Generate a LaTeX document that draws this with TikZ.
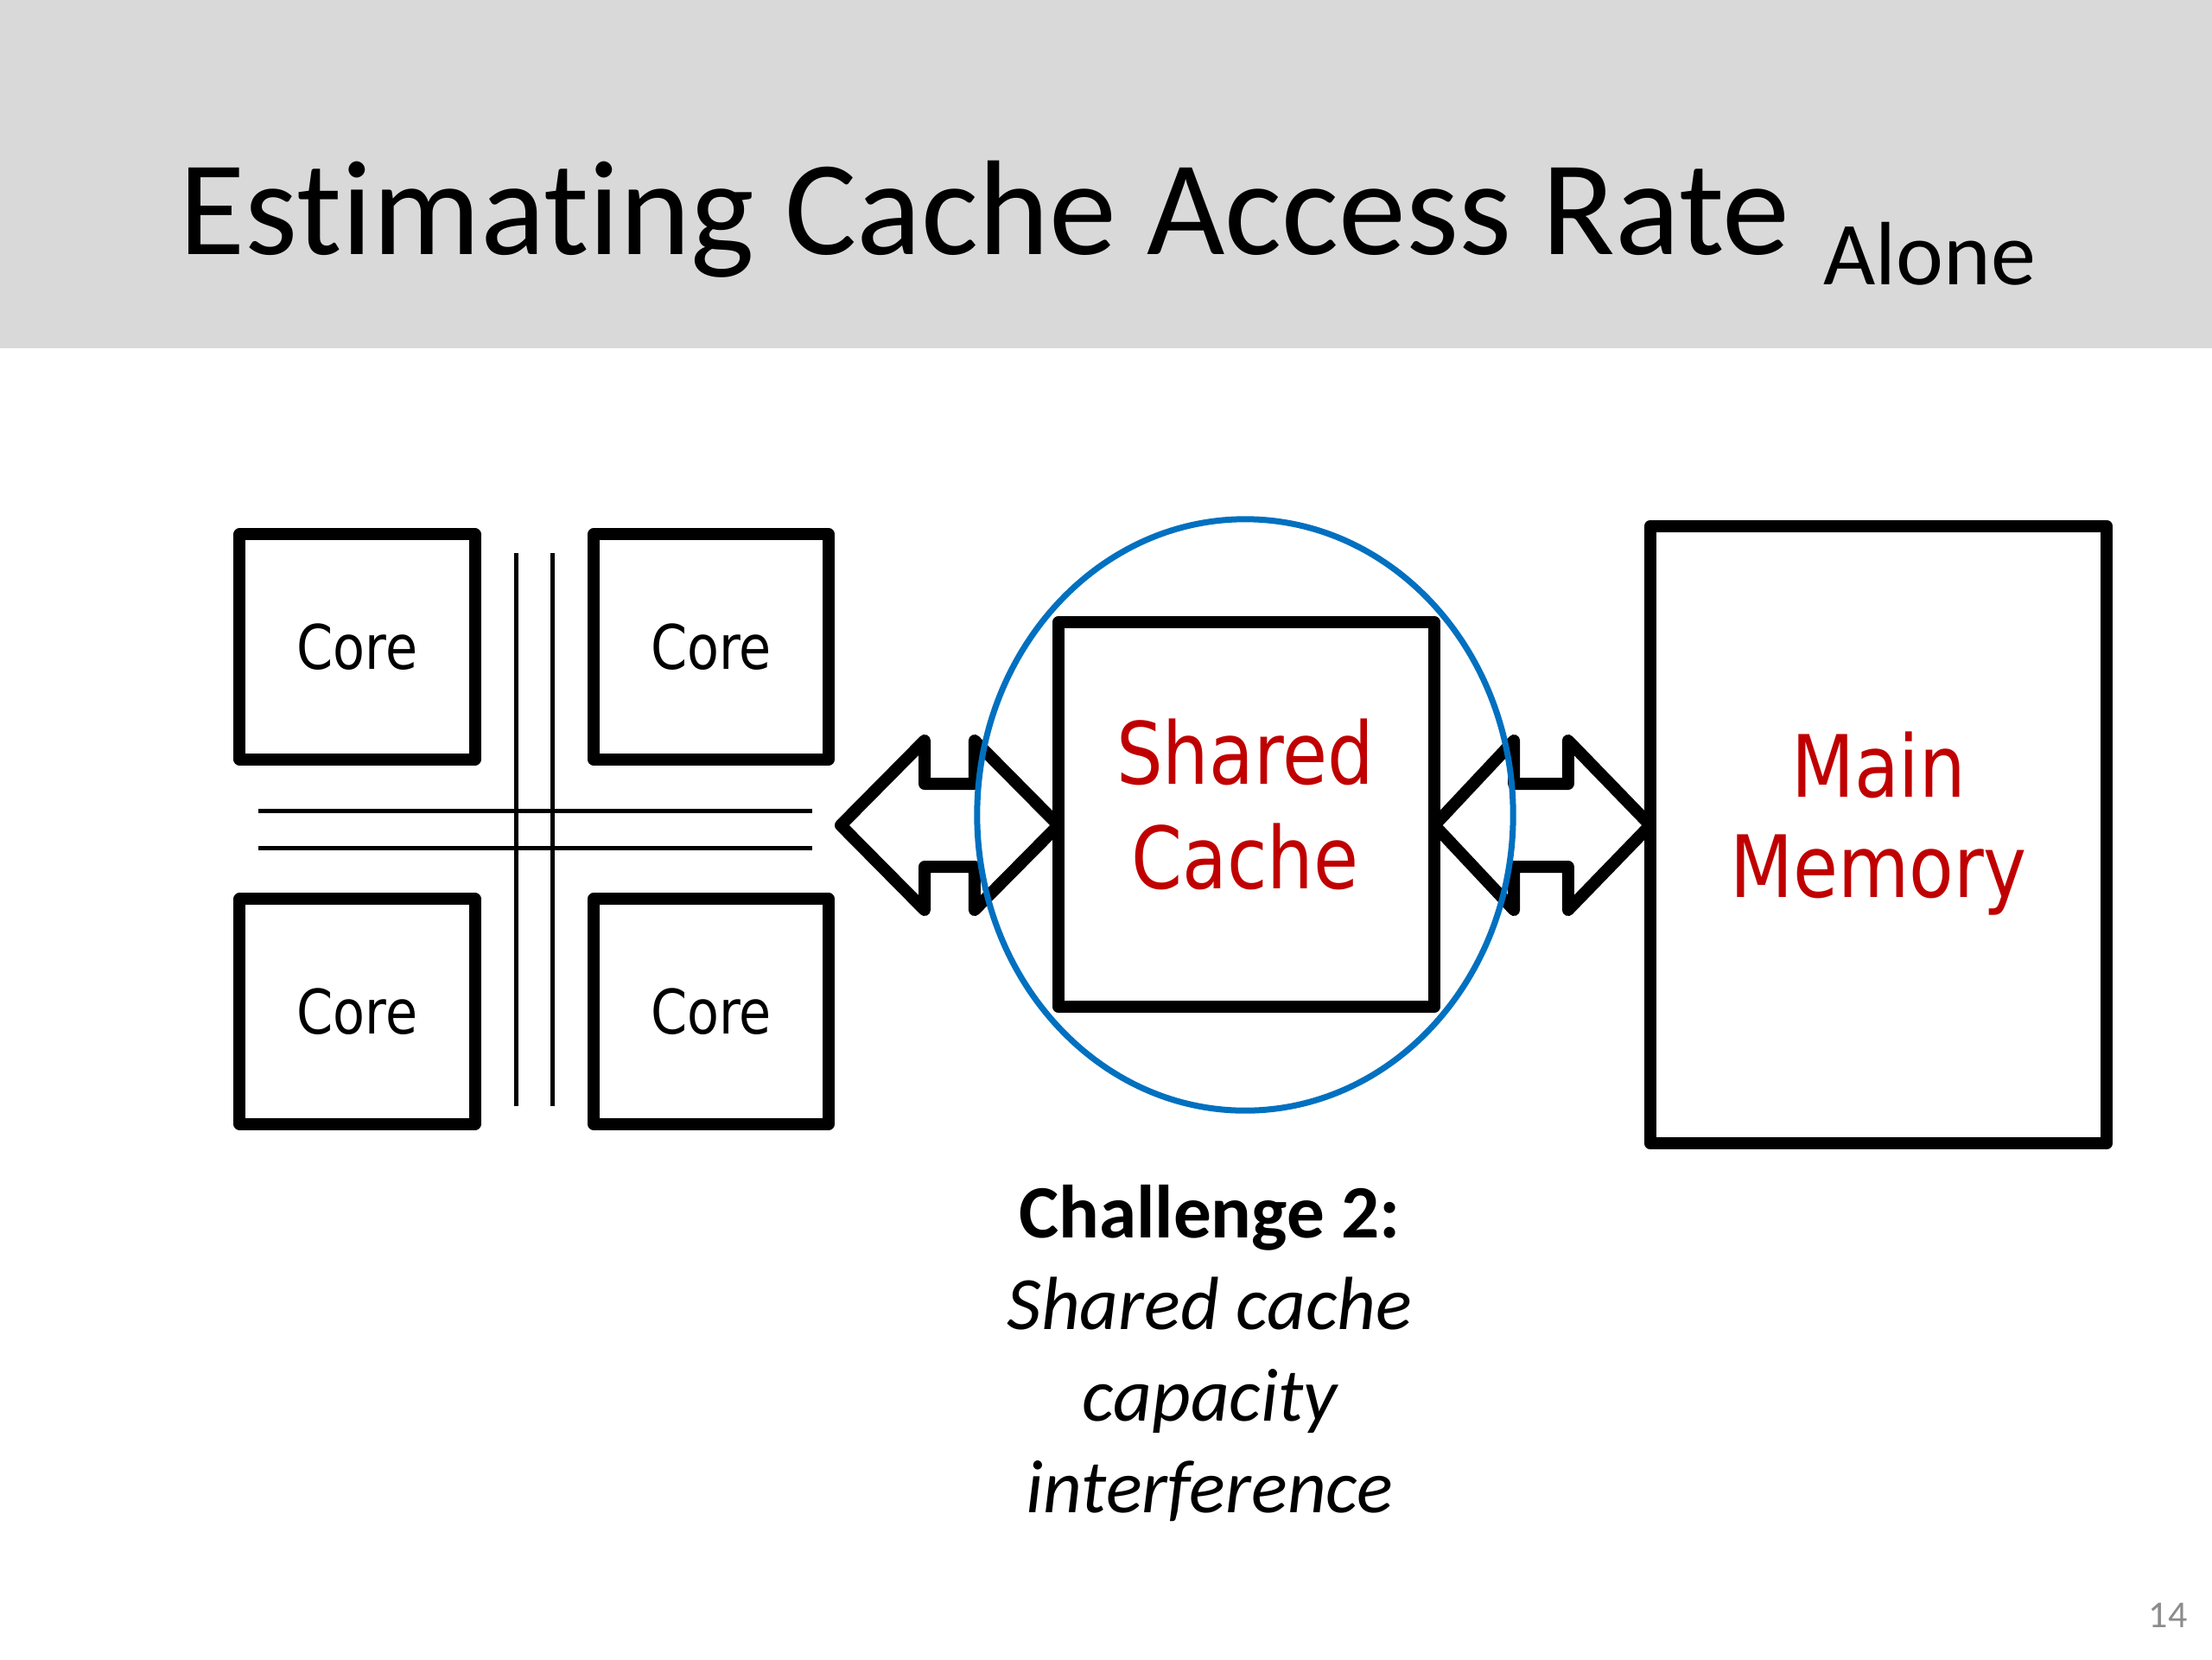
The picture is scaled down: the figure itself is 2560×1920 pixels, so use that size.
\documentclass[tikz,border=0pt]{standalone}
\usepackage{fontspec}
\setmainfont{Carlito}[Ligatures=NoCommon]
\newfontfamily\tahoma{DejaVu Sans}[FakeStretch=0.85]
\usetikzlibrary{shapes.geometric,calc}
\definecolor{hdrgray}{HTML}{D9D9D9}
\definecolor{pptred}{HTML}{C00000}
\definecolor{pptblue}{HTML}{0070C0}
\definecolor{pgnum}{HTML}{8C8C8C}
\begin{document}
\begin{tikzpicture}[x=0.01cm,y=-0.01cm,
  corebox/.style={draw=black, line width=0.14cm, line join=round, minimum width=2.72cm, minimum height=2.60cm, inner sep=0pt, outer sep=0pt, font=\tahoma\fontsize{20.2}{24}\selectfont},
  bigbox/.style={draw=black, line width=0.14cm, line join=round, inner sep=0pt, outer sep=0pt},
  bus/.style={draw=black, line width=0.05cm},
  dblarrow/.style={draw=black, line width=0.14cm, line join=round},
  redtext/.style={text=pptred, font=\tahoma\fontsize{28.3}{34}\selectfont, anchor=base, inner sep=0pt},
  chal/.style={anchor=base, inner sep=0pt, font=\fontsize{24.8}{30}\selectfont}]
\fill[white] (0,0) rectangle (2560,1920);
\useasboundingbox (0,0) rectangle (2560,1920);
% header band
\fill[hdrgray] (0,0) rectangle (2560,403);
\node[anchor=base west, inner sep=0pt, font=\fontsize{44.4}{53}\selectfont] (title) at (207,294) {Estimating Cache Access Rate};
\node[anchor=base west, inner sep=0pt, font=\fontsize{29.6}{35}\selectfont] (alone) at (2110,329) {Alone};
% interconnect bus
\draw[bus] (597.5,640) -- (597.5,1279.5);
\draw[bus] (639.7,640) -- (639.7,1279.5);
\draw[bus] (299,938.8) -- (939.5,938.8);
\draw[bus] (299,981) -- (939.5,981);
% cores
\node[corebox] (c1) at (413.5,748.5) {Core};
\node[corebox] (c2) at (823,748.5) {Core};
\node[corebox] (c3) at (413.5,1170.5) {Core};
\node[corebox] (c4) at (823,1170.5) {Core};
% shared cache
\node[bigbox, minimum width=4.35cm, minimum height=4.45cm] (cache) at (1442.5,942.5) {};
\node[redtext] (sh1) at (1441,907) {Shared};
\node[redtext] (sh2) at (1441,1028) {Cache};
% main memory
\node[bigbox, minimum width=5.28cm, minimum height=7.14cm] (mem) at (2174,966) {};
\node[redtext] (mm1) at (2174,922) {Main};
\node[redtext] (mm2) at (2174,1038) {Memory};
% double arrows
\coordinate (la) at (973,955);
\draw[dblarrow] (la) -- ++(97,-98) -- ++(0,50) -- ($(cache.west |- la)+(-97,-48)$) -- ++(0,-50)
  -- (cache.west |- la) -- ++(-97,98) -- ++(0,-50) -- ($(la)+(97,48)$) -- ++(0,50) -- cycle;
\coordinate (ra) at (cache.east |- la);
\draw[dblarrow] (ra) -- ++(92,-98) -- ++(0,50) -- ($(mem.west |- la)+(-95,-48)$) -- ++(0,-50)
  -- (mem.west |- la) -- ++(-95,98) -- ++(0,-50) -- ($(ra)+(92,48)$) -- ++(0,50) -- cycle;
% highlight ellipse
\node[draw=pptblue, line width=0.07cm, ellipse, minimum width=6.2cm, minimum height=6.84cm, inner sep=0pt] (ring) at (1441,943) {};
% challenge text
\node[chal] (ch1) at (1400,1432) {\bfseries Challenge 2:};
\node[chal] (ch2) at (1400,1538) {\itshape Shared cache};
\node[chal] (ch3) at (1400,1644) {\itshape capacity};
\node[chal] (ch4) at (1400,1750) {\itshape interference};
% page number
\node[anchor=base east, inner sep=0pt, text=pgnum, font=\fontsize{12.5}{15}\selectfont] (pg) at (2532,1883) {14};
\end{tikzpicture}
\end{document}
